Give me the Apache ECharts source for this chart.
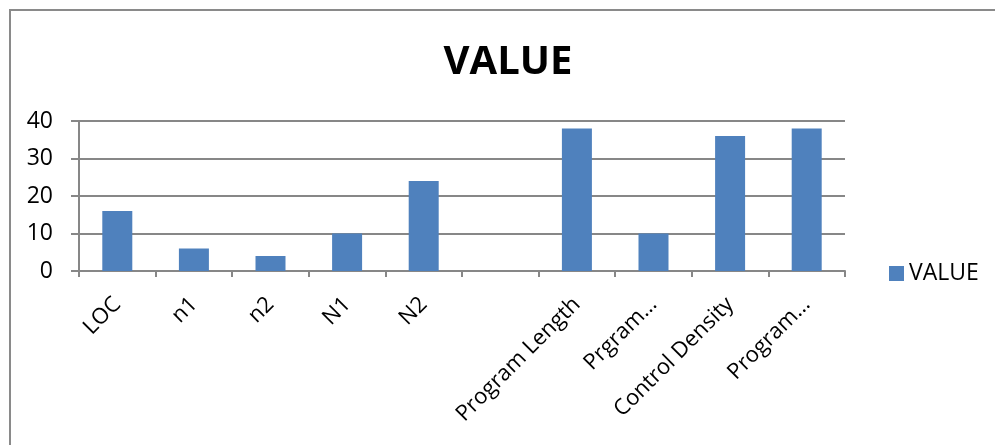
<!DOCTYPE html>
<html>
<head>
<meta charset="utf-8">
<script src="https://cdn.jsdelivr.net/npm/echarts@6/dist/echarts.min.js"></script>
<style>
    html, body { margin: 0; padding: 0; background: #ffffff; }
    #chart_value { width: 995px; height: 445px; }
</style>
</head>
<body>
<div id="chart_value"></div>
<script>
var categories = ['LOC', 'n1', 'n2', 'N1', 'N2', '', 'Program Length', 'Prgram…', 'Control Density', 'Program…'];
var values = [16, 6, 4, 10, 24, 0, 38, 10, 36, 38];
var yTicks = [0, 10, 20, 30, 40];

var fontName = 'Open Sans';
var lineGray = '#878787';

var chart_value = echarts.init(document.getElementById('chart_value'));

var option = {
    animation: false,
    title: {
        text: 'VALUE',
        left: 503,
        textAlign: 'center',
        top: 38,
        textStyle: {
            fontFamily: fontName,
            fontSize: 40,
            fontWeight: 'bold',
            color: '#000000'
        }
    },
    legend: {
        data: ['VALUE'],
        orient: 'vertical',
        left: 884,
        top: 257,
        itemWidth: 15,
        itemHeight: 15,
        icon: 'rect',
        textStyle: {
            fontFamily: fontName,
            fontSize: 23,
            color: '#000000'
        }
    },
    grid: {
        left: 79,
        right: 150,
        top: 121,
        bottom: 174
    },
    xAxis: [
        {
            type: 'category',
            data: categories,
            axisLine: {
                lineStyle: { color: lineGray, width: 2 }
            },
            axisTick: {
                show: true,
                length: 6,
                lineStyle: { color: lineGray, width: 2 }
            },
            axisLabel: {
                interval: 0,
                rotate: 45,
                margin: 30,
                fontFamily: fontName,
                fontSize: 22,
                color: '#000000'
            }
        }
    ],
    yAxis: [
        {
            type: 'value',
            min: yTicks[0],
            max: yTicks[yTicks.length - 1],
            interval: 10,
            axisLine: {
                show: true,
                lineStyle: { color: lineGray, width: 2 }
            },
            axisTick: {
                show: true,
                length: 8,
                lineStyle: { color: lineGray, width: 2 }
            },
            axisLabel: {
                margin: 26,
                fontFamily: fontName,
                fontSize: 23,
                color: '#000000'
            },
            splitLine: {
                show: true,
                lineStyle: { color: lineGray, width: 2 }
            }
        }
    ],
    series: [
        {
            name: 'VALUE',
            type: 'bar',
            barWidth: 30,
            itemStyle: { color: '#4F81BD' },
            data: values
        }
    ],
    graphic: [
        {
            type: 'polyline',
            shape: { points: [[10, 450], [10, 10], [1000, 10]] },
            style: { stroke: '#8a8a8a', lineWidth: 2, fill: null }
        }
    ]
};

chart_value.setOption(option);
</script>
</body>
</html>
